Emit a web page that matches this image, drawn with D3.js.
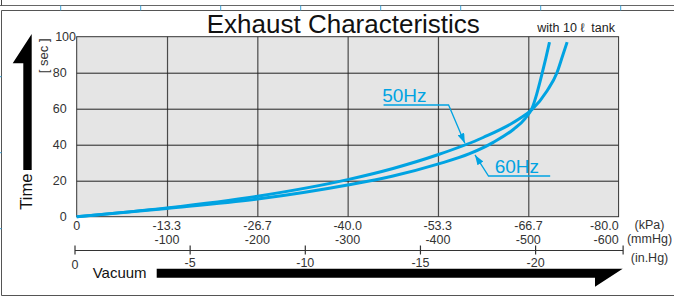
<!DOCTYPE html>
<html>
<head>
<meta charset="utf-8">
<script src="https://cdn.jsdelivr.net/npm/d3@7"></script>
<style>
body { margin: 0; background: #fff; }
svg { display: block; font-family: "Liberation Sans", Arial, sans-serif; }
</style>
</head>
<body>
<div id="chart"></div>
<script>
// axis ticks
var kpaTicks = [0, -13.3, -26.7, -40.0, -53.3, -66.7, -80.0];
var mmhgTicks = [-100, -200, -300, -400, -500, -600];
var inhgTicks = [0, -5, -10, -15, -20];
var timeTicks = [0, 20, 40, 60, 80, 100];

// 50Hz : vacuum [kPa] / time [sec]
var vac50  = [0, -13.3, -26.7, -40, -46.7, -53.3, -60, -65.4, -67.2, -69.45, -70.9, -71.7, -72.4];
var time50 = [0, 4.9, 11.4, 20.6, 26.8, 34.4, 44, 54.5, 59.5, 70, 80, 89, 97];

// 60Hz
var vac60  = [0, -13.3, -26.7, -40, -46.7, -53.3, -58, -61.5, -64.5, -66.2, -67.25, -67.9, -68.6, -69.25, -69.8];
var time60 = [0, 4.6, 9.8, 17.6, 22.6, 29.2, 35, 41.3, 48.6, 54.5, 60.5, 68, 78, 88, 97];

var blue = "#00a3e2";

var margin = {top: 36.7, right: 55.4, bottom: 80.3, left: 76.7},
    width = 674 - margin.left - margin.right,
    height = 297 - margin.top - margin.bottom;

var root = d3.select("#chart")
  .append("svg")
    .attr("width", 674)
    .attr("height", 297);

// page frame
root.append("line").attr("x1", 0).attr("x2", 674).attr("y1", 5.5).attr("y2", 5.5)
    .attr("stroke", "#666").attr("stroke-width", 1);
root.append("line").attr("x1", 1.5).attr("x2", 1.5).attr("y1", 0).attr("y2", 5.5)
    .attr("stroke", "#444").attr("stroke-width", 1);
root.append("path").attr("d", "M674,10.5H1.5V295.5H674")
    .attr("fill", "none").attr("stroke", "#555").attr("stroke-width", 1);
root.selectAll(".topmark").data(d3.range(60.7, 674, 80)).enter().append("line")
    .attr("x1", d => d).attr("x2", d => d).attr("y1", 5.5).attr("y2", 10.5)
    .attr("stroke", "#3aa6dd").attr("stroke-width", 1);
root.selectAll(".leftmark").data([76.7, 152.7, 228.7]).enter().append("line")
    .attr("x1", 0).attr("x2", 1.5).attr("y1", d => d).attr("y2", d => d)
    .attr("stroke", "#3aa6dd").attr("stroke-width", 1);

var svg = root.append("g")
    .attr("transform", "translate(" + margin.left + "," + margin.top + ")");

var x = d3.scaleLinear().domain([0, -80]).range([0, width]);
var xMm = d3.scaleLinear().domain([0, -600]).range([0, width]);
var xIn = d3.scaleLinear().domain([0, -20]).range([-1.7, 458.9]);
var y = d3.scaleLinear().domain([0, 100]).range([height, 0]);

// plot background
svg.append("rect")
    .attr("width", width).attr("height", height)
    .attr("fill", "#e5e5e5");

// grid
var gx = svg.append("g")
    .attr("transform", "translate(0," + height + ")")
    .call(d3.axisBottom(xMm).tickValues(mmhgTicks.slice(0, -1)).tickSize(-height).tickFormat(""));
gx.select(".domain").remove();
gx.selectAll("line").attr("stroke", "#4a4a4a").attr("stroke-width", 1.2);

var gy = svg.append("g")
    .call(d3.axisLeft(y).tickValues(timeTicks.slice(1, -1)).tickSize(-width).tickFormat(""));
gy.select(".domain").remove();
gy.selectAll("line").attr("stroke", "#222").attr("stroke-width", 1);

svg.append("rect")
    .attr("width", width).attr("height", height)
    .attr("fill", "none").attr("stroke", "#333").attr("stroke-width", 1);

// y labels
var ya = svg.append("g")
    .call(d3.axisLeft(y).tickValues(timeTicks).tickSize(0).tickPadding(10));
ya.select(".domain").remove();
ya.selectAll("text")
    .attr("font-size", 12.5).attr("font-family", null).attr("fill", "#333")
    .filter(d => d === 100).attr("x", -0.7);

// x labels, kPa and mmHg rows
svg.selectAll(".kpa").data(kpaTicks).enter().append("text")
    .attr("x", d => x(d))
    .attr("y", height + 13.7)
    .attr("text-anchor", (d, i) => i === kpaTicks.length - 1 ? "end" : "middle")
    .attr("font-size", 12.5).attr("fill", "#333")
    .text(d => d === 0 ? "0" : d.toFixed(1));

svg.selectAll(".mmhg").data(mmhgTicks).enter().append("text")
    .attr("x", d => xMm(d))
    .attr("y", height + 27.6)
    .attr("text-anchor", (d, i) => i === mmhgTicks.length - 1 ? "end" : "middle")
    .attr("font-size", 12.5).attr("fill", "#333")
    .text(d => d);

// in.Hg axis
var inEnd = -23.8;
var gi = svg.append("g").attr("transform", "translate(0," + (height + 33.8) + ")");
gi.append("line")
    .attr("x1", xIn(0)).attr("x2", xIn(inEnd))
    .attr("stroke", "#333").attr("stroke-width", 1);
gi.selectAll(".tick").data(inhgTicks.concat([inEnd])).enter().append("line")
    .attr("x1", d => xIn(d)).attr("x2", d => xIn(d))
    .attr("y1", -5).attr("y2", 4)
    .attr("stroke", "#333").attr("stroke-width", 1.2);
gi.selectAll("text").data(inhgTicks).enter().append("text")
    .attr("x", d => xIn(d))
    .attr("y", d => d === 0 ? 18.8 : 16.5)
    .attr("text-anchor", "middle")
    .attr("font-size", 12.5).attr("fill", "#333")
    .text(d => d);

// units
var units = [["(kPa)", 229], ["(mmHg)", 242.7], ["(in.Hg)", 261.7]];
root.selectAll(".unit").data(units).enter().append("text")
    .attr("x", 649.5).attr("y", d => d[1])
    .attr("text-anchor", "middle")
    .attr("font-size", 12.5).attr("fill", "#333")
    .text(d => d[0]);

// curves
var line = d3.line()
    .x(d => x(d[0]))
    .y(d => y(d[1]))
    .curve(d3.curveMonotoneX);

[[vac50, time50], [vac60, time60]].forEach(function(s) {
  svg.append("path")
      .datum(d3.zip(s[0], s[1]))
      .attr("d", line)
      .attr("fill", "none")
      .attr("stroke", blue)
      .attr("stroke-width", 3);
});

// labels with leaders
root.append("defs").append("marker")
    .attr("id", "head")
    .attr("markerUnits", "userSpaceOnUse")
    .attr("markerWidth", 10).attr("markerHeight", 7)
    .attr("refX", 10).attr("refY", 3.5)
    .attr("orient", "auto")
  .append("path")
    .attr("d", "M0,0L10,3.5L0,7z")
    .attr("fill", blue);

var notes = [
  {label: "50Hz", tx: -45.1, ty: 63.9, path: [[-45.3, 62.06], [-54.9, 62.06], [-57.3, 40.8]]},
  {label: "60Hz", tx: -61.7, ty: 24.4, path: [[-69.9, 22.6], [-60.8, 22.6], [-58.8, 34.3]]}
];
notes.forEach(function(n) {
  svg.append("text")
      .attr("x", x(n.tx)).attr("y", y(n.ty))
      .attr("font-size", 19).attr("fill", blue)
      .text(n.label);
  svg.append("path")
      .attr("d", d3.line().x(d => x(d[0])).y(d => y(d[1]))(n.path))
      .attr("fill", "none")
      .attr("stroke", blue)
      .attr("stroke-width", 1.3)
      .attr("marker-end", "url(#head)");
});

// title
root.append("text")
    .attr("x", 343.3).attr("y", 33.3)
    .attr("text-anchor", "middle")
    .attr("font-size", 26).attr("fill", "#111")
    .text("Exhaust Characteristics");
root.append("text")
    .attr("x", 537.3).attr("y", 32.3)
    .attr("font-size", 12.5).attr("fill", "#222")
    .style("white-space", "pre")
    .text("with 10 \u2113  tank");

// time arrow
root.append("path")
    .attr("d", "M31.7,34V170H23.3V63.3H12.7Z")
    .attr("fill", "#000");
root.append("text")
    .attr("transform", "translate(31.7,191.7) rotate(-90)")
    .attr("text-anchor", "middle")
    .attr("font-size", 16.5).attr("fill", "#111")
    .text("Time");
root.append("text")
    .attr("transform", "translate(48.3,55.8) rotate(-90)")
    .attr("text-anchor", "middle")
    .attr("font-size", 13).attr("fill", "#333")
    .style("white-space", "pre")
    .text("[ sec ]");

// vacuum arrow
root.append("path")
    .attr("d", "M156.7,268.7H622.7L595,286.7V277.7H156.7Z")
    .attr("fill", "#000");
root.append("text")
    .attr("x", 92.7).attr("y", 277.7)
    .attr("font-size", 15).attr("fill", "#111")
    .text("Vacuum");
</script>
</body>
</html>
